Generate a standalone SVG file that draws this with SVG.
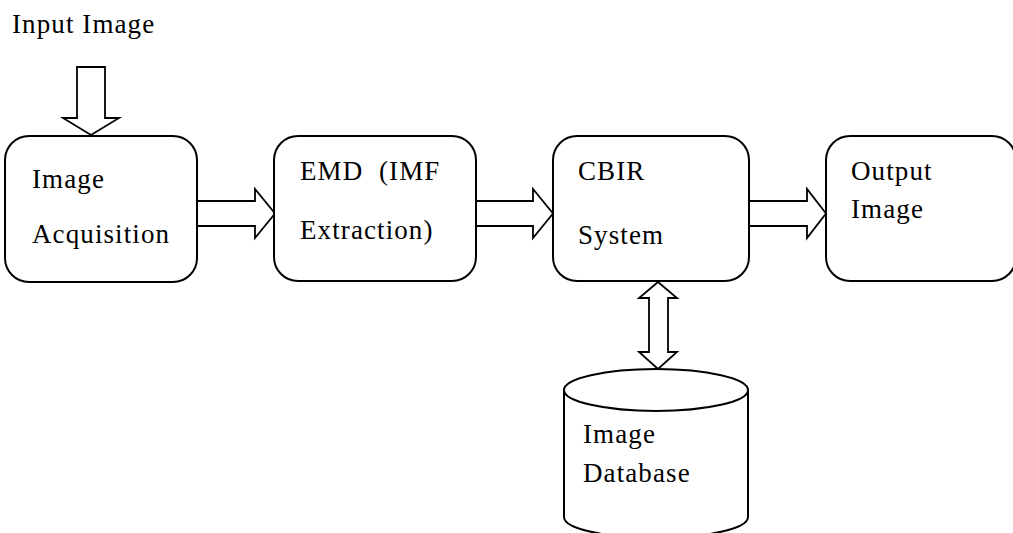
<svg xmlns="http://www.w3.org/2000/svg" width="1013" height="533" viewBox="0 0 1013 533">
<style>
.box{fill:#fff;stroke:#000;stroke-width:2}
.arr{fill:#fff;stroke:#000;stroke-width:1.8;stroke-linejoin:miter}
text{font-family:"Liberation Serif","Times New Roman",serif;font-size:27px;fill:#000;letter-spacing:1.1px;white-space:pre}
</style>
<rect width="1013" height="533" fill="#fff"/>
<text x="12" y="33">Input Image</text>
<g id="connectors">
<polygon class="arr" points="77,67 105,67 105,118 119,118 91,135 63,118 77,118"/>
<polygon class="arr" points="197,201 255,201 255,189 275,213.5 255,238 255,226 197,226"/>
<polygon class="arr" points="476,201 533,201 533,189 553,213.5 533,238 533,226 476,226"/>
<polygon class="arr" points="749,201 807,201 807,189 826,213.5 807,238 807,226 749,226"/>
<polygon class="arr" points="658,282 677,298 668,298 668,352 677,352 658,369 639,352 649,352 649,298 639,298"/>
</g>
<g id="node-acq">
<rect class="box" x="5" y="136" width="192" height="146" rx="24"/>
<text x="32" y="188">Image</text>
<text x="32" y="243">Acquisition</text>
</g>
<g id="node-emd">
<rect class="box" x="274" y="136" width="202" height="145" rx="24"/>
<text x="300" y="180" xml:space="preserve">EMD  (IMF</text>
<text x="300" y="239">Extraction)</text>
</g>
<g id="node-cbir">
<rect class="box" x="553" y="136" width="196" height="145" rx="24"/>
<text x="578" y="180">CBIR</text>
<text x="578" y="244">System</text>
</g>
<g id="node-out">
<rect class="box" x="826" y="136" width="190" height="145" rx="24"/>
<text x="851" y="180">Output</text>
<text x="851" y="218">Image</text>
</g>
<g id="node-db">
<path class="box" d="M564,390 L564,517 A92,21 0 0 0 748,517 L748,390"/>
<ellipse class="box" cx="656" cy="390" rx="92" ry="21"/>
<text x="583" y="443">Image</text>
<text x="583" y="482">Database</text>
</g>
</svg>
